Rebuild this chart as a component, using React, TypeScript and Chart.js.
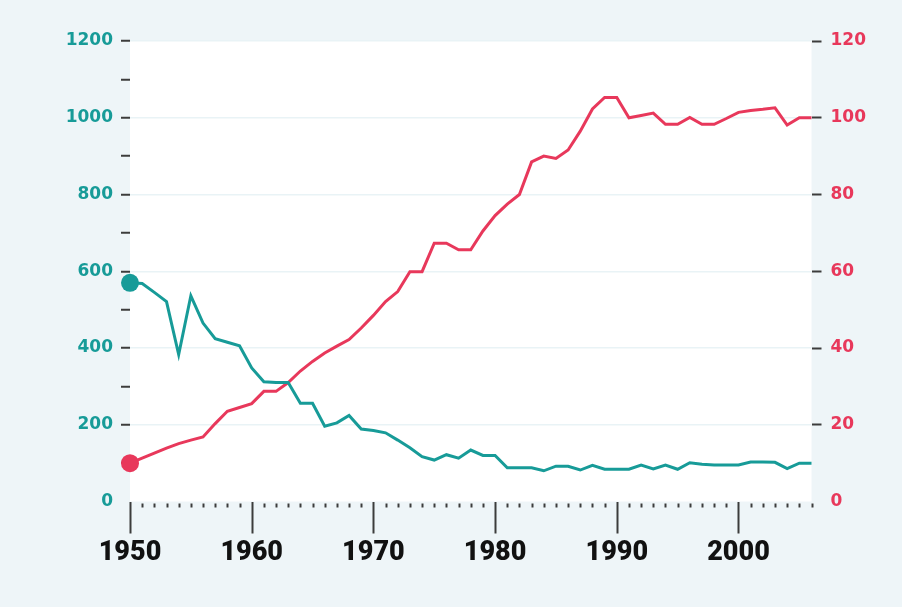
import React, { useEffect, useRef } from 'react';
import { Chart, registerables } from 'chart.js';

Chart.register(...registerables);

const years = [
  1950, 1951, 1952, 1953, 1954, 1955, 1956, 1957, 1958, 1959,
  1960, 1961, 1962, 1963, 1964, 1965, 1966, 1967, 1968, 1969,
  1970, 1971, 1972, 1973, 1974, 1975, 1976, 1977, 1978, 1979,
  1980, 1981, 1982, 1983, 1984, 1985, 1986, 1987, 1988, 1989,
  1990, 1991, 1992, 1993, 1994, 1995, 1996, 1997, 1998, 1999,
  2000, 2001, 2002, 2003, 2004, 2005, 2006,
];

const tealValues = [
  570, 568, 545, 521, 383, 536, 465, 424, 415, 406,
  348, 312, 310, 310, 256, 256, 196, 205, 224, 189,
  185, 179, 160, 140, 117, 108, 122, 113, 134, 120,
  120, 88, 88, 88, 80, 92, 92, 82, 94, 84,
  84, 84, 95, 85, 95, 84, 101, 97, 95, 95,
  95, 103, 103, 102, 86, 100, 100,
];

const redValues = [
  10, 11.3, 12.6, 13.9, 15.1, 16, 16.8, 20.3, 23.5, 24.5,
  25.5, 28.7, 28.7, 31, 34, 36.5, 38.7, 40.5, 42.2, 45.2,
  48.5, 52.1, 54.7, 59.9, 59.9, 67.3, 67.3, 65.6, 65.6, 70.5,
  74.5, 77.5, 80, 88.5, 90, 89.4, 91.6, 96.5, 102.3, 105.3,
  105.3, 100, 100.6, 101.2, 98.3, 98.3, 100.1, 98.3, 98.3, 99.8,
  101.4, 101.9, 102.2, 102.6, 98.1, 100, 100,
];

const xMin = 1950;
const xMax = 2006;
const xLabelEvery = 10;
const leftMax = 1200;
const leftStep = 100;
const leftLabelEvery = 200;
const rightMax = 120;
const rightStep = 20;

const TEAL = '#179b98';
const RED = '#e8385b';
const BG = '#eef5f8';
const TICK = '#3c3c3c';

const bgPlugin = {
  id: 'bgPlugin',
  beforeDraw(chart: any) {
    const { ctx, chartArea } = chart;
    ctx.save();
    ctx.fillStyle = BG;
    ctx.fillRect(0, 0, chart.width, chart.height);
    ctx.fillStyle = '#ffffff';
    ctx.fillRect(chartArea.left, chartArea.top, chartArea.right - chartArea.left, chartArea.bottom - chartArea.top);
    ctx.restore();
  },
};

const xTickPlugin = {
  id: 'xTickPlugin',
  afterDraw(chart: any) {
    const { ctx, chartArea } = chart;
    const scale = chart.scales.x;
    ctx.save();
    ctx.strokeStyle = TICK;
    scale.ticks.forEach((t: any) => {
      const px = Math.round(scale.getPixelForValue(t.value)) + 0.5;
      const major = t.value % xLabelEvery === 0;
      ctx.lineWidth = 2;
      ctx.beginPath();
      ctx.moveTo(px, chartArea.bottom + (major ? 0.5 : 2));
      ctx.lineTo(px, chartArea.bottom + (major ? 32 : 6));
      ctx.stroke();
    });
    ctx.restore();
  },
};

export default function App() {
  const ref = useRef<HTMLCanvasElement | null>(null);

  useEffect(() => {
    if (!ref.current) return;
    const chart = new Chart(ref.current, {
      type: 'line',
      data: {
        datasets: [
          {
            label: 'teal',
            data: years.map((y, i) => ({ x: y, y: tealValues[i] })),
            borderColor: TEAL,
            backgroundColor: TEAL,
            borderWidth: 3,
            pointRadius: (c: any) => (c.dataIndex === 0 ? 9 : 0),
            pointHoverRadius: 0,
            pointBorderWidth: 0,
            tension: 0,
            yAxisID: 'y',
            clip: false as any,
          },
          {
            label: 'red',
            data: years.map((y, i) => ({ x: y, y: redValues[i] })),
            borderColor: RED,
            backgroundColor: RED,
            borderWidth: 3,
            pointRadius: (c: any) => (c.dataIndex === 0 ? 9 : 0),
            pointHoverRadius: 0,
            pointBorderWidth: 0,
            tension: 0,
            yAxisID: 'y1',
            clip: false as any,
          },
        ],
      },
      options: {
        responsive: false,
        animation: false,
        devicePixelRatio: 1,
        layout: { padding: { top: 41, left: 0, right: 0, bottom: 0 } },
        plugins: { legend: { display: false }, tooltip: { enabled: false } },
        scales: {
          x: {
            type: 'linear',
            min: xMin,
            max: xMax,
            border: { display: false },
            grid: { display: false, drawTicks: false },
            ticks: {
              stepSize: 1,
              autoSkip: false,
              maxRotation: 0,
              padding: 36,
              color: '#111111',
              font: { family: 'Roboto', weight: '900', size: 27 },
              callback: (v: any) => (Number(v) % xLabelEvery === 0 ? String(v) : ''),
            },
            afterFit: (s: any) => { s.height = 105.5; },
          },
          y: {
            position: 'left',
            min: 0,
            max: leftMax,
            border: { display: false },
            grid: {
              color: (c: any) => (c.tick && c.tick.value % leftLabelEvery === 0 && c.tick.value !== 0 ? '#e9f3f6' : 'rgba(0,0,0,0)'),
              lineWidth: 1.5,
              tickColor: (c: any) => (c.tick && c.tick.value === 0 ? 'rgba(0,0,0,0)' : TICK),
              tickLength: 9,
              tickWidth: 2,
            },
            ticks: {
              stepSize: leftStep,
              autoSkip: false,
              padding: 8,
              color: TEAL,
              font: { family: 'DejaVu Sans', weight: 'bold', size: 17 },
              callback: (v: any) => (Number(v) % leftLabelEvery === 0 ? String(v) : ''),
            },
            afterFit: (s: any) => { s.width = 130; },
          },
          y1: {
            position: 'right',
            min: 0,
            max: rightMax,
            border: { display: false },
            grid: {
              drawOnChartArea: false,
              tickColor: (c: any) => (c.tick && c.tick.value === 0 ? 'rgba(0,0,0,0)' : TICK),
              tickLength: 10,
              tickWidth: 2,
            },
            ticks: {
              stepSize: rightStep,
              padding: 9,
              color: RED,
              font: { family: 'DejaVu Sans', weight: 'bold', size: 17 },
            },
            afterFit: (s: any) => { s.width = 90.5; },
          },
        },
      },
      plugins: [bgPlugin, xTickPlugin],
    });
    return () => chart.destroy();
  }, []);

  return (
    <div style={{ position: 'fixed', left: 0, top: 0, width: 902, height: 607, background: BG }}>
      <canvas ref={ref} width={902} height={607} style={{ width: 902, height: 607, display: 'block' }} />
    </div>
  );
}
